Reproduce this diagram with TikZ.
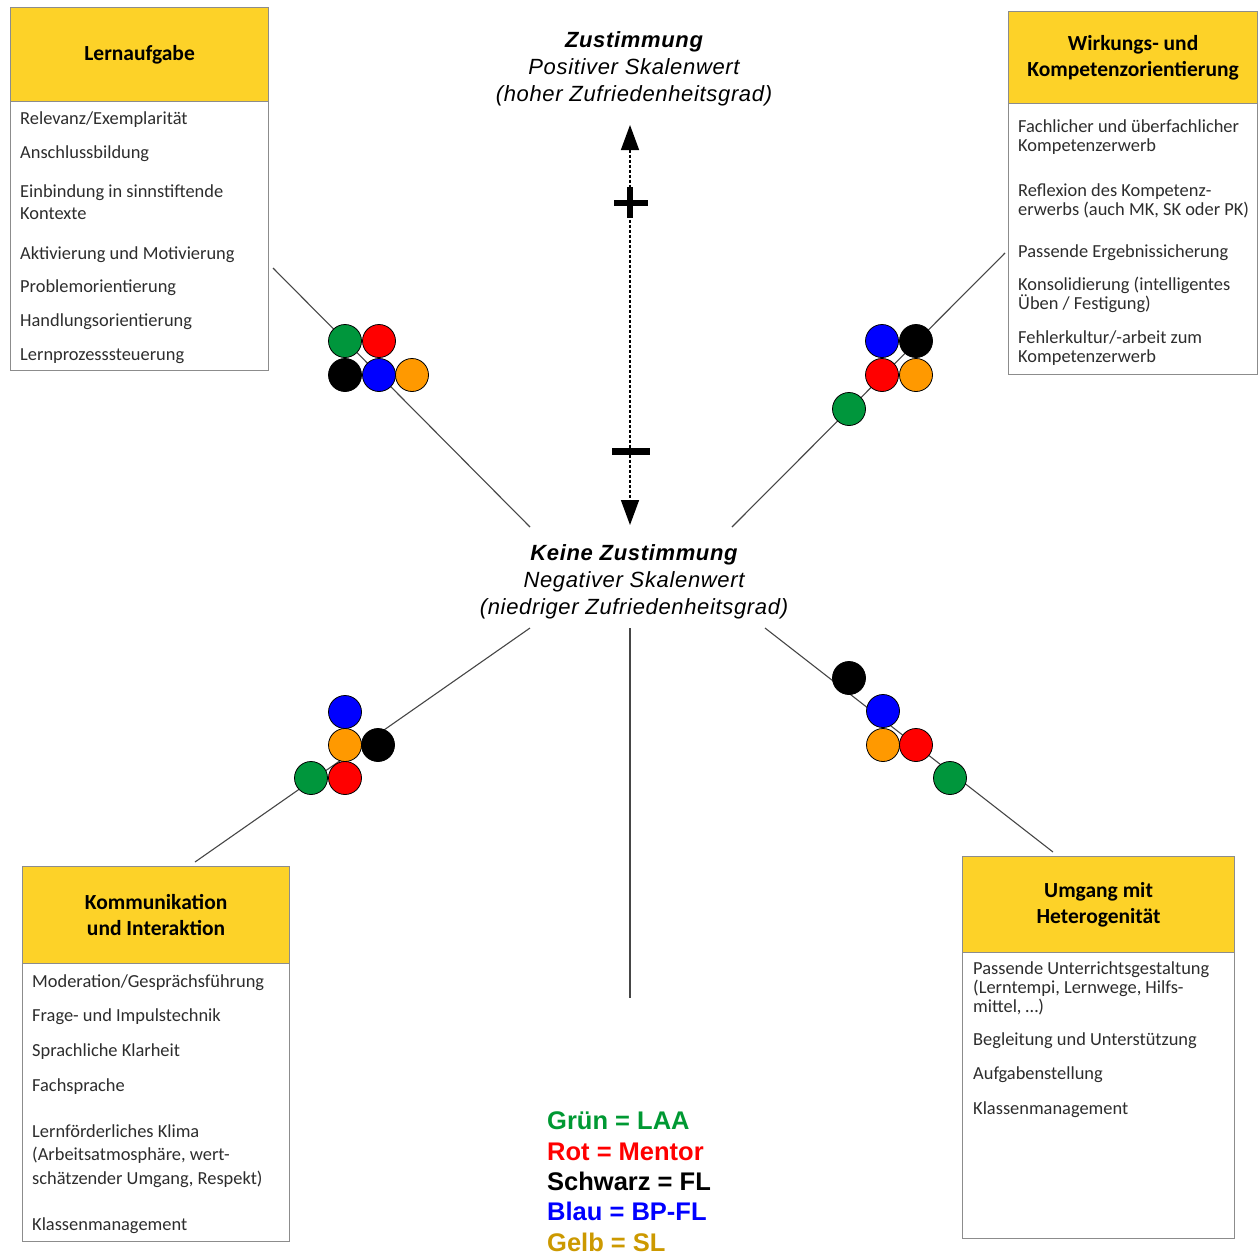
\documentclass[tikz,border=0pt]{standalone}
\usepackage{fontspec}
\setmainfont{Carlito}
\newfontfamily\arial{Liberation Sans}
\newfontfamily\arialsp[LetterSpace=3]{Liberation Sans}
\usetikzlibrary{arrows.meta}
\definecolor{hdryellow}{RGB}{253,210,40}
\definecolor{boxgray}{RGB}{140,140,140}
\definecolor{txtgray}{RGB}{45,45,45}
\definecolor{cgreen}{RGB}{0,150,60}
\definecolor{cred}{RGB}{255,0,0}
\definecolor{cblue}{RGB}{0,0,255}
\definecolor{corange}{RGB}{255,153,0}
\definecolor{lgreen}{RGB}{0,153,51}
\definecolor{lgold}{RGB}{204,153,0}
\definecolor{linegray}{RGB}{70,70,70}
\tikzset{
  hdr/.style={draw=boxgray, fill=hdryellow, line width=1.2pt, inner sep=0pt, align=center,
    anchor=north west, font=\fontsize{21.5}{26}\selectfont\bfseries, text=black},
  bodybox/.style={draw=boxgray, fill=white, line width=1.2pt, inner sep=0pt, anchor=north west},
  item/.style={anchor=base west, inner sep=0pt, align=left,
    font=\fontsize{18.4}{19}\selectfont, text=txtgray},
  dot/.style={circle, draw=black, line width=0.8pt, minimum size=33pt, inner sep=0pt},
  ray/.style={draw=linegray, line width=1.1pt},
  centertxt/.style={font=\arialsp\fontsize{22}{27}\selectfont\itshape, align=center, inner sep=0pt},
  legend/.style={font=\arial\bfseries\fontsize{25.5}{30}\selectfont, anchor=base west, inner sep=0pt},
  scalearrow/.style={dash pattern=on 3pt off 2pt, line width=1.5pt,
    {Triangle[length=25pt,width=18pt]}-{Triangle[length=25pt,width=18pt]}}
}
\begin{document}
\begin{tikzpicture}[x=1pt,y=-1pt]
\useasboundingbox (0,0) rectangle (1258,1254);
\fill[white] (0,0) rectangle (1258,1254);

% rays
\coordinate (r1a) at (273,268); \coordinate (r1b) at (530,527);
\coordinate (r2a) at (1005,253); \coordinate (r2b) at (732,527);
\coordinate (r3a) at (530,628); \coordinate (r3b) at (195,862);
\coordinate (r4a) at (630,628); \coordinate (r4b) at (630,998);
\coordinate (r5a) at (765,628); \coordinate (r5b) at (1053,852);
\draw[ray] (r1a) -- (r1b);
\draw[ray] (r2a) -- (r2b);
\draw[ray] (r3a) -- (r3b);
\draw[ray] (r4a) -- (r4b);
\draw[ray] (r5a) -- (r5b);

% scale arrow
\coordinate (atop) at (630,125);
\coordinate (abot) at (630,525);
\draw[scalearrow] (atop) -- (abot);
\fill (614,200) rectangle (648,206);
\fill (627,187) rectangle (633,218);
\fill (612,448) rectangle (650,455);

% center texts
\node[centertxt] (zust) at (634,69) {{\bfseries Zustimmung}\\Positiver Skalenwert\\(hoher Zufriedenheitsgrad)};
\node[centertxt] (keine) at (634,582) {{\bfseries Keine Zustimmung}\\Negativer Skalenwert\\(niedriger Zufriedenheitsgrad)};

% Box 1
\node[bodybox, minimum width=258pt, minimum height=269pt] (b1) at (10,101) {};
\node[hdr, minimum width=258pt, minimum height=94pt] (h1) at (10,7) {Lernaufgabe};
\node[item] (b1i1) at (20,124) {Relevanz/Exemplarität};
\node[item] (b1i2) at (20,158) {Anschlussbildung};
\node[item] (b1i3) at (20,219) {Einbindung in sinnstiftende\\[3pt]Kontexte};
\node[item] (b1i4) at (20,259) {Aktivierung und Motivierung};
\node[item] (b1i5) at (20,292) {Problemorientierung};
\node[item] (b1i6) at (20,326) {Handlungsorientierung};
\node[item] (b1i7) at (20,360) {Lernprozesssteuerung};

% Box 2
\node[bodybox, minimum width=249pt, minimum height=271pt] (b2) at (1008,103) {};
\node[hdr, minimum width=249pt, minimum height=92pt] (h2) at (1008,11) {Wirkungs- und\\Kompetenzorientierung};
\node[item] (b2i1) at (1018,151) {Fachlicher und überfachlicher\\Kompetenzerwerb};
\node[item] (b2i2) at (1018,215) {Reflexion des Kompetenz-\\erwerbs (auch MK, SK oder PK)};
\node[item] (b2i3) at (1018,257) {Passende Ergebnissicherung};
\node[item] (b2i4) at (1018,309) {Konsolidierung (intelligentes\\Üben / Festigung)};
\node[item] (b2i5) at (1018,362) {Fehlerkultur/-arbeit zum\\Kompetenzerwerb};

% Box 3
\node[bodybox, minimum width=267pt, minimum height=278pt] (b3) at (22,963) {};
\node[hdr, minimum width=267pt, minimum height=97pt] (h3) at (22,866) {Kommunikation\\und Interaktion};
\node[item] (b3i1) at (32,987) {Moderation/Gesprächsführung};
\node[item] (b3i2) at (32,1021) {Frage- und Impulstechnik};
\node[item] (b3i3) at (32,1056) {Sprachliche Klarheit};
\node[item] (b3i4) at (32,1091) {Fachsprache};
\node[item] (b3i5) at (32,1184) {Lernförderliches Klima\\[4.5pt](Arbeitsatmosphäre, wert-\\[4.5pt]schätzender Umgang, Respekt)};
\node[item] (b3i6) at (32,1230) {Klassenmanagement};

% Box 4
\node[bodybox, minimum width=272pt, minimum height=286pt] (b4) at (962,952) {};
\node[hdr, minimum width=272pt, minimum height=96pt] (h4) at (962,856) {Umgang mit\\Heterogenität};
\node[item] (b4i1) at (973,1012) {Passende Unterrichtsgestaltung\\(Lerntempi, Lernwege, Hilfs-\\mittel, \dots)};
\node[item] (b4i2) at (973,1045) {Begleitung und Unterstützung};
\node[item] (b4i3) at (973,1079) {Aufgabenstellung};
\node[item] (b4i4) at (973,1114) {Klassenmanagement};

% dots top-left
\node[dot, fill=cgreen] (d1g) at (345,341) {};
\node[dot, fill=cred] (d1r) at (379,341) {};
\node[dot, fill=black] (d1k) at (345,375) {};
\node[dot, fill=cblue] (d1b) at (379,375) {};
\node[dot, fill=corange] (d1o) at (412,375) {};
% dots top-right
\node[dot, fill=cblue] (d2b) at (882,341) {};
\node[dot, fill=black] (d2k) at (916,341) {};
\node[dot, fill=cred] (d2r) at (882,375) {};
\node[dot, fill=corange] (d2o) at (916,375) {};
\node[dot, fill=cgreen] (d2g) at (849,409) {};
% dots bottom-left
\node[dot, fill=cblue] (d3b) at (345,712) {};
\node[dot, fill=corange] (d3o) at (345,745) {};
\node[dot, fill=black] (d3k) at (378,745) {};
\node[dot, fill=cgreen] (d3g) at (311,778) {};
\node[dot, fill=cred] (d3r) at (345,778) {};
% dots bottom-right
\node[dot, fill=black] (d4k) at (849,678) {};
\node[dot, fill=cblue] (d4b) at (883,711) {};
\node[dot, fill=corange] (d4o) at (883,745) {};
\node[dot, fill=cred] (d4r) at (916,745) {};
\node[dot, fill=cgreen] (d4g) at (950,778) {};

% legend
\node[legend, text=lgreen] (lg1) at (547,1129) {Grün = LAA};
\node[legend, text=cred] (lg2) at (547,1160) {Rot = Mentor};
\node[legend, text=black] (lg3) at (547,1190) {Schwarz = FL};
\node[legend, text=cblue] (lg4) at (547,1220) {Blau = BP-FL};
\node[legend, text=lgold] (lg5) at (547,1251) {Gelb = SL};
\end{tikzpicture}
\end{document}
